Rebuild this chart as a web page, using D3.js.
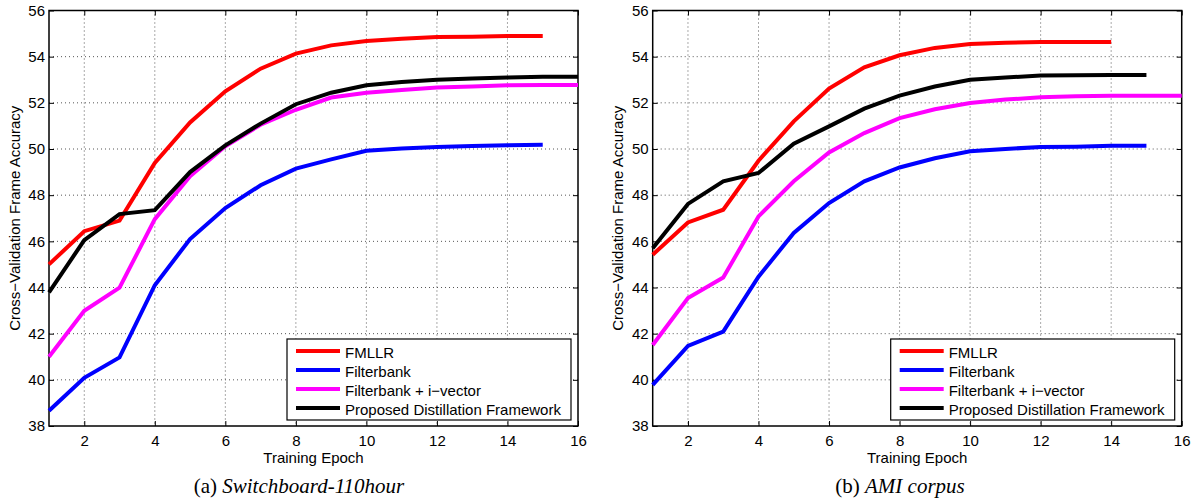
<!DOCTYPE html>
<html>
<head>
<meta charset="utf-8">
<script src="https://cdn.jsdelivr.net/npm/d3@7"></script>
<style>
  body { margin: 0; background: #fff; }
  svg { display: block; }
  text { font-family: "Liberation Sans", Arial, sans-serif; fill: #000; }
</style>
</head>
<body>
<div id="chart"></div>
<script>
// epochs on x axis
var epochs = [1, 2, 3, 4, 5, 6, 7, 8, 9, 10, 11, 12, 13, 14, 15, 16];
var xTicks = [2, 4, 6, 8, 10, 12, 14, 16];
var yTicks = [38, 40, 42, 44, 46, 48, 50, 52, 54, 56];

var seriesNames = ["FMLLR", "Filterbank", "Filterbank + i\u2212vector", "Proposed Distillation Framework"];
var seriesColors = ["#ff0000", "#0000ff", "#ff00ff", "#000000"];

// (a) Switchboard-110hour
var fmllrA = [45.0, 46.44, 46.9, 49.4, 51.15, 52.5, 53.48, 54.13, 54.49, 54.68, 54.78, 54.85, 54.86, 54.9, 54.9];
var filterbankA = [38.66, 40.09, 40.97, 44.1, 46.1, 47.44, 48.43, 49.15, 49.55, 49.92, 50.02, 50.09, 50.13, 50.16, 50.18];
var ivectorA = [41.0, 42.99, 43.99, 46.96, 48.82, 50.12, 51.05, 51.7, 52.23, 52.44, 52.56, 52.66, 52.71, 52.76, 52.77, 52.77];
var distillA = [43.79, 46.05, 47.18, 47.35, 49.0, 50.16, 51.1, 51.94, 52.44, 52.76, 52.9, 53.0, 53.05, 53.1, 53.13, 53.13];

// (b) AMI corpus
var fmllrB = [45.42, 46.82, 47.37, 49.49, 51.2, 52.62, 53.54, 54.06, 54.38, 54.55, 54.6, 54.64, 54.64, 54.64];
var filterbankB = [39.78, 41.47, 42.09, 44.47, 46.36, 47.66, 48.6, 49.2, 49.6, 49.9, 50.0, 50.09, 50.1, 50.14, 50.14];
var ivectorB = [41.51, 43.54, 44.43, 47.08, 48.6, 49.85, 50.69, 51.34, 51.72, 51.99, 52.14, 52.24, 52.29, 52.31, 52.31, 52.31];
var distillB = [45.7, 47.62, 48.6, 48.96, 50.23, 50.98, 51.75, 52.31, 52.71, 53.0, 53.1, 53.18, 53.2, 53.21, 53.21];

var W = 1199, H = 502;
var svg = d3.select("#chart").append("svg").attr("width", W).attr("height", H);

function drawPanel(left, captionX, captionPrefix, captionName, series) {
    var pw = 529, top = 10.5, bottom = 426;
    var x = d3.scaleLinear().domain([1, 16]).range([left, left + pw]);
    var y = d3.scaleLinear().domain([38, 56]).range([bottom, top]);
    var g = svg.append("g");

    // dotted grid
    g.selectAll(".gx").data(xTicks.filter(function (t) { return t < 16; })).enter().append("line")
        .attr("x1", function (d) { return x(d); }).attr("x2", function (d) { return x(d); })
        .attr("y1", top).attr("y2", bottom)
        .attr("stroke", "#555").attr("stroke-width", 1).attr("stroke-dasharray", "1,3");
    g.selectAll(".gy").data(yTicks.filter(function (t) { return t > 38 && t < 56; })).enter().append("line")
        .attr("x1", left).attr("x2", left + pw)
        .attr("y1", function (d) { return y(d); }).attr("y2", function (d) { return y(d); })
        .attr("stroke", "#555").attr("stroke-width", 1).attr("stroke-dasharray", "1,3");

    // axes with inward ticks on all sides
    var ax = g.append("g").attr("transform", "translate(0," + bottom + ")")
        .call(d3.axisBottom(x).tickValues(xTicks).tickSizeInner(-5).tickSizeOuter(0).tickPadding(9));
    var axTop = g.append("g").attr("transform", "translate(0," + top + ")")
        .call(d3.axisTop(x).tickValues(xTicks).tickSizeInner(-5).tickSizeOuter(0).tickFormat(""));
    var ay = g.append("g").attr("transform", "translate(" + left + ",0)")
        .call(d3.axisLeft(y).tickValues(yTicks).tickSizeInner(-5).tickSizeOuter(0).tickPadding(4));
    var ayR = g.append("g").attr("transform", "translate(" + (left + pw) + ",0)")
        .call(d3.axisRight(y).tickValues(yTicks).tickSizeInner(-5).tickSizeOuter(0).tickFormat(""));
    [ax, axTop, ay, ayR].forEach(function (a) {
        a.select(".domain").remove();
        a.selectAll("line").attr("stroke", "#000").attr("stroke-width", 1);
        a.selectAll("text").style("font-size", "15px").style("font-family", "Liberation Sans, Arial, sans-serif");
    });

    // box
    g.append("rect").attr("x", left).attr("y", top).attr("width", pw).attr("height", bottom - top)
        .attr("fill", "none").attr("stroke", "#000").attr("stroke-width", 1.5);

    // series lines
    var line = d3.line()
        .x(function (d, i) { return x(epochs[i]); })
        .y(function (d) { return y(d); });
    series.forEach(function (s, i) {
        g.append("path").datum(s).attr("d", line)
            .attr("fill", "none").attr("stroke", seriesColors[i]).attr("stroke-width", 4);
    });

    // axis labels
    g.append("text").attr("x", left + pw / 2).attr("y", 463)
        .attr("text-anchor", "middle").style("font-size", "15px").text("Training Epoch");
    g.append("text").attr("transform", "translate(" + (left - 29.5) + "," + ((top + bottom) / 2) + ") rotate(-90)")
        .attr("text-anchor", "middle").style("font-size", "15px").text("Cross\u2212Validation Frame Accuracy");

    // legend
    var lx = left + pw - 291, ly = 339;
    g.append("rect").attr("x", lx).attr("y", ly).attr("width", 284).attr("height", 81)
        .attr("fill", "#fff").attr("stroke", "#000").attr("stroke-width", 1.2);
    var items = g.selectAll(".leg").data(seriesNames).enter().append("g")
        .attr("transform", function (d, i) { return "translate(" + lx + "," + (ly + 12 + i * 19) + ")"; });
    items.append("line").attr("x1", 9).attr("x2", 53).attr("y1", 0).attr("y2", 0)
        .attr("stroke", function (d, i) { return seriesColors[i]; }).attr("stroke-width", 4);
    items.append("text").attr("x", 58).attr("y", 6.5).style("font-size", "15px").text(function (d) { return d; });

    // caption
    var cap = svg.append("text").attr("x", captionX).attr("y", 493).attr("text-anchor", "middle")
        .style("font-family", "Liberation Serif, Times New Roman, serif").style("font-size", "21px");
    cap.append("tspan").text(captionPrefix);
    cap.append("tspan").style("font-style", "italic").text(captionName);
}

drawPanel(49, 299, "(a) ", "Switchboard-110hour", [fmllrA, filterbankA, ivectorA, distillA]);
drawPanel(652.7, 900, "(b) ", "AMI corpus", [fmllrB, filterbankB, ivectorB, distillB]);
</script>
</body>
</html>
